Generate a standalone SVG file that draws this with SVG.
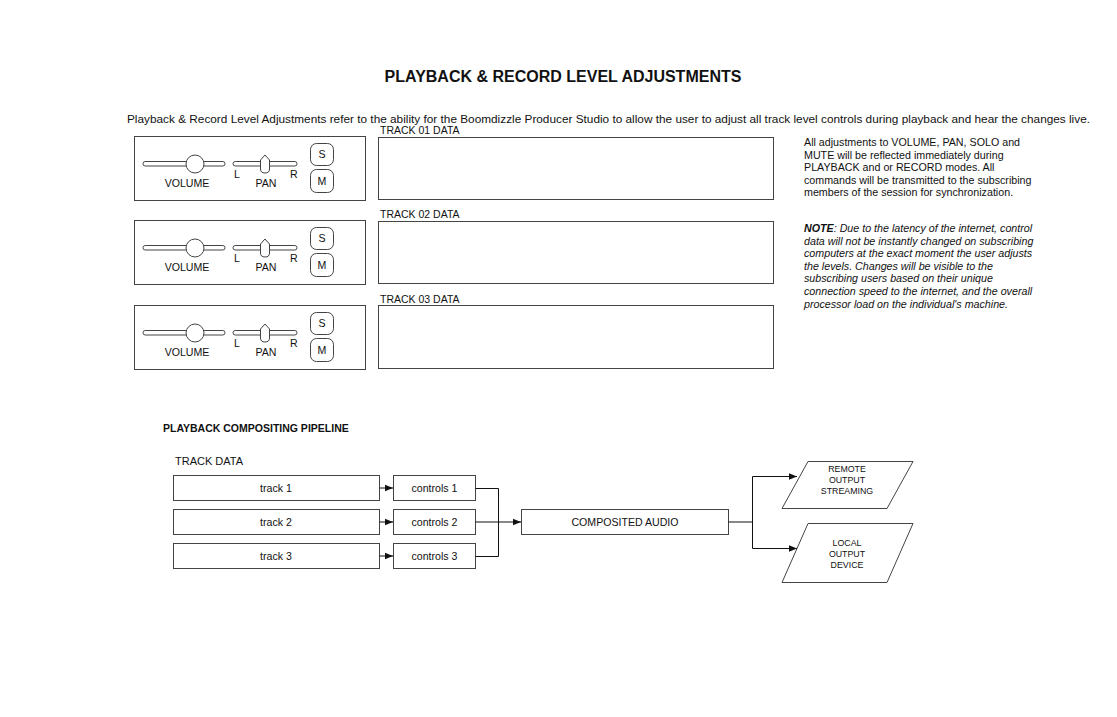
<svg xmlns="http://www.w3.org/2000/svg" width="1117" height="717" viewBox="0 0 1117 717">
<defs>
<style>
text{font-family:"Liberation Sans",Arial,sans-serif;fill:#111}
.box{fill:#fff;stroke:#444;stroke-width:1}
.ln{fill:none;stroke:#111;stroke-width:1}
.t10{font-size:10.6px}
.t11{font-size:10.5px}
.c{text-anchor:middle}
</style>
<marker id="ah" viewBox="0 0 10 10" refX="10" refY="5" markerWidth="8" markerHeight="8" markerUnits="userSpaceOnUse" orient="auto">
<path d="M0,1 L10,5 L0,9 Z" fill="#111"/>
</marker>
<g id="panel">
<rect class="box" x="134.5" y="136.5" width="231" height="64"/>
<rect class="box" x="143" y="161.5" width="82" height="4.5" rx="2.2"/>
<circle class="box" cx="195" cy="164" r="9"/>
<rect class="box" x="233" y="161.5" width="64" height="4.5" rx="2.2"/>
<path class="box" d="M260.5 160 L265 155 L269.5 160 L269.5 169 Q269.5 173 265 173 Q260.5 173 260.5 169 Z"/>
<text class="t10 c" x="187" y="187">VOLUME</text>
<text class="t10" x="234" y="178">L</text>
<text class="t10" x="290" y="178">R</text>
<text class="t10 c" x="266" y="187">PAN</text>
<rect class="box" x="310.5" y="143.5" width="23" height="22" rx="6"/>
<text class="t10 c" x="322" y="158">S</text>
<rect class="box" x="310.5" y="169.5" width="23" height="23" rx="6"/>
<text class="t10 c" x="322" y="185">M</text>
</g>
</defs>
<rect width="1117" height="717" fill="#fff"/>
<text x="563" y="82" class="c" style="font-size:16px;font-weight:bold">PLAYBACK &amp; RECORD LEVEL ADJUSTMENTS</text>
<text x="127" y="122.5" style="font-size:10.6px" textLength="963" lengthAdjust="spacingAndGlyphs">Playback &amp; Record Level Adjustments refer to the ability for the Boomdizzle Producer Studio to allow the user to adjust all track level controls during playback and hear the changes live.</text>

<g id="track1">
<use href="#panel"/>
<text class="t11" x="380" y="134">TRACK 01 DATA</text>
<rect class="box" x="378.5" y="137.5" width="395" height="62"/>
</g>
<g id="track2">
<use href="#panel" transform="translate(0,84)"/>
<text class="t11" x="380" y="218">TRACK 02 DATA</text>
<rect class="box" x="378.5" y="221.5" width="395" height="62"/>
</g>
<g id="track3">
<use href="#panel" transform="translate(0,169)"/>
<text class="t11" x="380" y="303">TRACK 03 DATA</text>
<rect class="box" x="378.5" y="305.5" width="395" height="63"/>
</g>

<g id="notes" style="font-size:10.7px">
<text x="804" y="146">All adjustments to VOLUME, PAN, SOLO and</text>
<text x="804" y="158.6">MUTE will be reflected immediately during</text>
<text x="804" y="171.2">PLAYBACK and or RECORD modes. All</text>
<text x="804" y="183.8">commands will be transmitted to the subscribing</text>
<text x="804" y="196.4">members of the session for synchronization.</text>
<g style="font-style:italic">
<text x="804" y="232"><tspan font-weight="bold">NOTE</tspan>: Due to the latency of the internet, control</text>
<text x="804" y="244.6">data will not be instantly changed on subscribing</text>
<text x="804" y="257.2">computers at the exact moment the user adjusts</text>
<text x="804" y="269.8">the levels. Changes will be visible to the</text>
<text x="804" y="282.4">subscribing users based on their unique</text>
<text x="804" y="295">connection speed to the internet, and the overall</text>
<text x="804" y="307.6">processor load on the individual's machine.</text>
</g>
</g>

<text x="163" y="432" style="font-size:10.5px;font-weight:bold">PLAYBACK COMPOSITING PIPELINE</text>
<text x="175" y="465" style="font-size:11px">TRACK DATA</text>

<g id="track-1"><rect class="box" x="173.5" y="475.5" width="206" height="25"/><text class="t10 c" x="276" y="491.5">track 1</text></g>
<g id="track-2"><rect class="box" x="173.5" y="509.5" width="206" height="25"/><text class="t10 c" x="276" y="525.5">track 2</text></g>
<g id="track-3"><rect class="box" x="173.5" y="543.5" width="206" height="25"/><text class="t10 c" x="276" y="559.5">track 3</text></g>
<g id="controls-1"><rect class="box" x="393.5" y="475.5" width="82" height="25"/><text class="t10 c" x="434.5" y="491.5">controls 1</text></g>
<g id="controls-2"><rect class="box" x="393.5" y="509.5" width="82" height="25"/><text class="t10 c" x="434.5" y="525.5">controls 2</text></g>
<g id="controls-3"><rect class="box" x="393.5" y="543.5" width="82" height="25"/><text class="t10 c" x="434.5" y="559.5">controls 3</text></g>
<g id="composited"><rect class="box" x="521.5" y="509.5" width="207" height="25"/><text class="t10 c" x="625" y="525.5">COMPOSITED AUDIO</text></g>
<g id="remote"><polygon class="box" points="808,461.5 913,461.5 887,508.5 782,508.5"/>
<text class="c" style="font-size:8.8px" x="847" y="472">REMOTE</text>
<text class="c" style="font-size:8.8px" x="847" y="483">OUTPUT</text>
<text class="c" style="font-size:8.8px" x="847" y="494">STREAMING</text></g>
<g id="local"><polygon class="box" points="808,523.5 913,523.5 887,582.5 782,582.5"/>
<text class="c" style="font-size:8.8px" x="847" y="546">LOCAL</text>
<text class="c" style="font-size:8.8px" x="847" y="557">OUTPUT</text>
<text class="c" style="font-size:8.8px" x="847" y="568">DEVICE</text></g>

<g id="connectors">
<path class="ln" d="M379.5 488 H393" marker-end="url(#ah)"/>
<path class="ln" d="M379.5 522 H393" marker-end="url(#ah)"/>
<path class="ln" d="M379.5 556 H393" marker-end="url(#ah)"/>
<path class="ln" d="M475.5 488.5 H498.5 V556.5 H475.5"/>
<path class="ln" d="M475.5 522 H521" marker-end="url(#ah)"/>
<path class="ln" d="M728.5 522 H752.5 V476.5 H797" marker-end="url(#ah)"/>
<path class="ln" d="M752.5 522 V548.5 H797" marker-end="url(#ah)"/>
</g>
</svg>
